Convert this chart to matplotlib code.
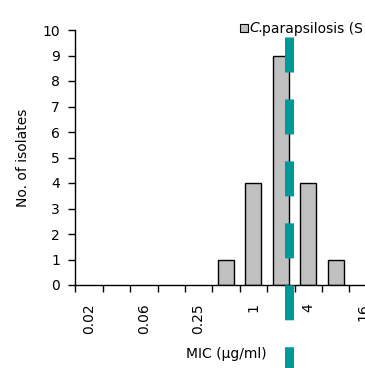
import matplotlib
matplotlib.use("Agg")
import matplotlib.pyplot as plt
import numpy as np

plt.rcParams['font.family'] = ['DejaVu Sans']
plt.rcParams['lines.scale_dashes'] = False

# MIC dilution series (µg/ml) and isolate counts
mic_values = ["0.016", "0.03", "0.06", "0.125", "0.25", "0.5", "1", "2", "4", "8", "16"]
tick_labels = ["0.02", "", "0.06", "", "0.25", "", "1", "", "4", "", "16"]
counts = [0, 0, 0, 0, 0, 1, 4, 9, 4, 1, 0]
breakpoint_pos = 7.3   # breakpoint position on the category axis
genus = "C."
series_rest = "parapsilosis (S"

fig = plt.figure(figsize=(3.65, 3.68), dpi=100)
ax = fig.add_axes([75.3 / 365, 83 / 368, 301.4 / 365, 255 / 368])

x = np.arange(len(mic_values))
counts_arr = np.array(counts)
nz = counts_arr > 0
ax.bar(x[nz], counts_arr[nz], width=0.58, color="#C0C0C0", edgecolor="black",
       linewidth=1.0, zorder=2)

ax.set_xlim(-0.5, len(mic_values) - 0.5)
ax.set_ylim(0, 10)
ax.set_yticks(range(0, 11))
ax.tick_params(axis='y', direction='out', length=5, width=1, pad=6, labelsize=10)

# category labels at centres, tick marks on category boundaries
ax.set_xticks(x)
ax.set_xticklabels(tick_labels, rotation=90, fontsize=10)
ax.tick_params(axis='x', which='major', length=0, pad=13)
ax.set_xticks(np.arange(-0.5, len(mic_values) + 0.5, 1), minor=True)
ax.tick_params(axis='x', which='minor', direction='out', length=5, width=1)

for s in ("top", "right"):
    ax.spines[s].set_visible(False)
for s in ("left", "bottom"):
    ax.spines[s].set_linewidth(1.0)

ax.set_ylabel("No. of isolates", fontsize=10)
ax.yaxis.set_label_coords(-0.15, 0.5)
ax.set_xlabel("MIC (µg/ml)", fontsize=10)
ax.xaxis.set_label_coords(0.5, -0.245)

# breakpoint line, running from the top of the plot down past the labels
bp, = ax.plot([breakpoint_pos, breakpoint_pos], [9.73, -3.4], color="#009999",
              linewidth=6.5, clip_on=False, solid_capstyle='butt',
              dash_capstyle='butt', zorder=3)
bp.set_dashes([25.2, 19.4])

# legend entry
fig.patches.append(plt.Rectangle((240 / 365, 1 - 32 / 368), 8 / 365, 8 / 368,
                                 transform=fig.transFigure, facecolor="#C0C0C0",
                                 edgecolor="black", linewidth=0.8))
fig.text(249 / 365, 1 - 28.5 / 368, genus, fontsize=10, style='italic', va='center')
fig.text(262 / 365, 1 - 28.5 / 368, series_rest, fontsize=10, va='center')

fig.savefig("out.png", dpi=100)
